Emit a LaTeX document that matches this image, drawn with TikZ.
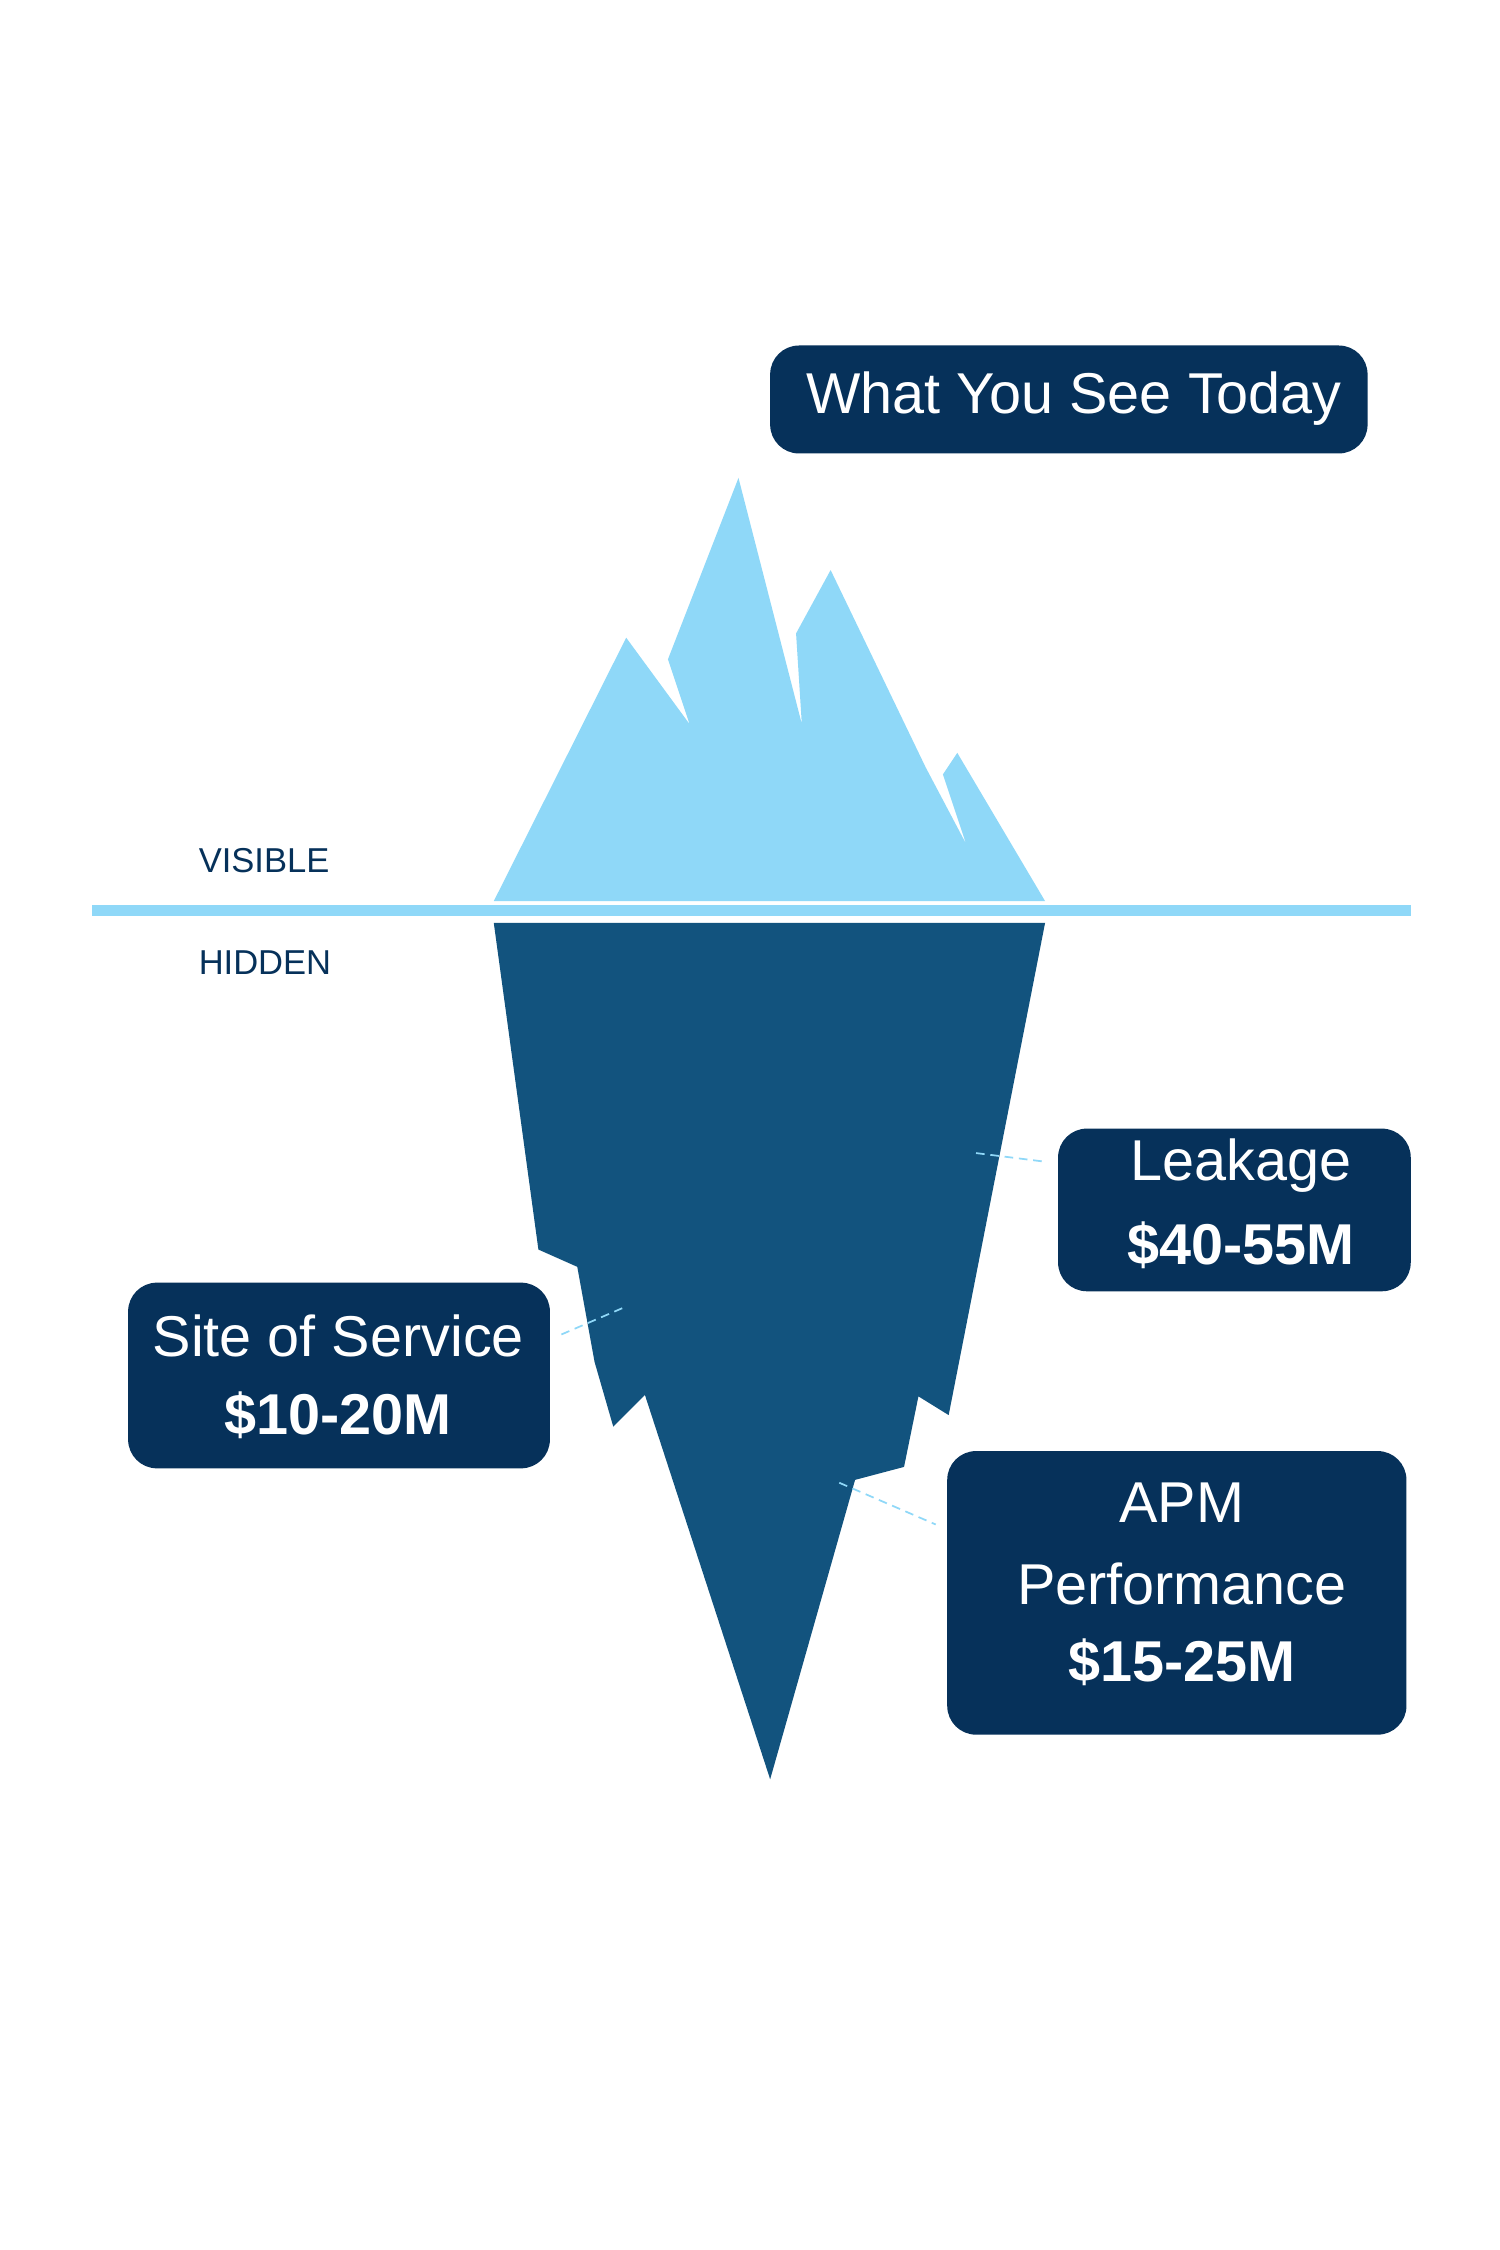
\documentclass[tikz,border=0pt]{standalone}
\usepackage{fontspec}
\setmainfont{Liberation Sans}
\definecolor{ice}{HTML}{8FD8F8}
\definecolor{deep}{HTML}{12537E}
\definecolor{navy}{HTML}{06315A}
\tikzset{
  tag/.style={fill=navy, rounded corners=10pt, text=white, align=center, inner sep=0pt},
  lead/.style={draw=ice, densely dashed, line width=0.6pt}
}
\begin{document}
\begin{tikzpicture}[x=0.5pt, y=-0.5pt]
\useasboundingbox[fill=white] (0,0) rectangle (1042,1563);
% water line
\path[fill=ice] (64,629) rectangle (980,636);
% visible part
\path[fill=ice] (343,626) -- (435,443) -- (479,503) -- (464,458) -- (513,332) -- (557,503) -- (553,440) -- (577,396) -- (643,533) -- (671,586) -- (655,538) -- (665,523) -- (726,626) -- cycle;
% hidden part
\path[fill=deep] (343,641) -- (726,641) -- (659,983) -- (638,970) -- (628,1019) -- (594,1028) -- (535,1236) -- (448,969) -- (426,991) -- (413,946) -- (401,880) -- (374,868) -- cycle;
\node[text=navy, font=\fontsize{12}{14}\selectfont, anchor=west] (vis) at (131,598) {VISIBLE};
\node[text=navy, font=\fontsize{12}{14}\selectfont, anchor=west] (hid) at (131,669) {HIDDEN};
% boxes
\path[tag] (535,240) rectangle (950,315);
\node[text=white, font=\fontsize{20}{24}\selectfont] (see) at (746,277) {What You See Today};
\path[tag] (735,784) rectangle (980,897);
\node[text=white, font=\fontsize{20}{24}\selectfont] (leak) at (862,810) {Leakage};
\node[text=white, font=\bfseries\fontsize{20}{24}\selectfont] (leakv) at (862,865) {\$40-55M};
\path[tag] (89,891) rectangle (382,1020);
\node[text=white, font=\fontsize{20}{24}\selectfont] (site) at (235,928) {Site of Service};
\node[text=white, font=\bfseries\fontsize{20}{24}\selectfont] (sitev) at (235,983) {\$10-20M};
\path[tag] (658,1008) rectangle (977,1205);
\node[text=white, font=\fontsize{20}{24}\selectfont] (apm) at (821,1044) {APM};
\node[text=white, font=\fontsize{20}{24}\selectfont] (perf) at (821,1100) {Performance};
\node[text=white, font=\bfseries\fontsize{20}{24}\selectfont] (apmv) at (821,1155) {\$15-25M};
% leader lines
\coordinate (l1) at (678,801); \coordinate (l2) at (726,807);
\coordinate (s1) at (390,927); \coordinate (s2) at (434,908);
\coordinate (a1) at (583,1030); \coordinate (a2) at (650,1059);
\draw[lead] (l1) -- (l2);
\draw[lead] (s1) -- (s2);
\draw[lead] (a1) -- (a2);
\end{tikzpicture}
\end{document}
